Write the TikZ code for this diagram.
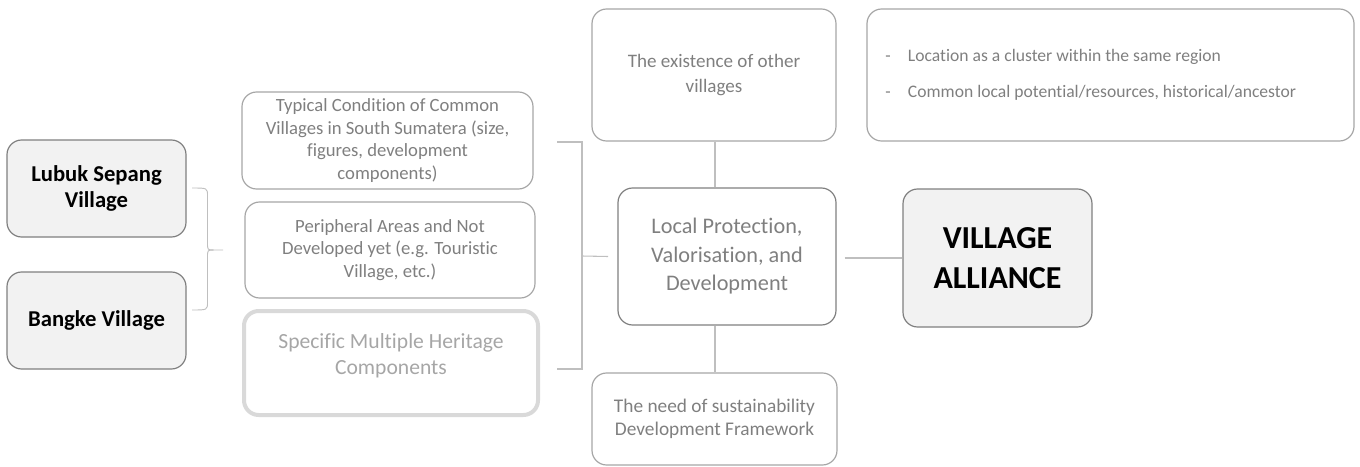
\documentclass[tikz,border=0pt]{standalone}
\usepackage{fontspec}
\setmainfont{Carlito}[Ligatures=NoCommon]
\definecolor{txtgray}{HTML}{7F7F7F}
\definecolor{ltgray}{HTML}{A6A6A6}
\definecolor{lngray}{HTML}{BFBFBF}
\definecolor{thgray}{HTML}{D9D9D9}
\definecolor{boxfill}{HTML}{F2F2F2}
\begin{document}
\begin{tikzpicture}[x=0.75pt,y=-0.75pt,
  box/.style={draw=ltgray, line width=0.9pt, rounded corners=11pt, inner sep=0pt, align=center, text=txtgray},
  darkbox/.style={box, draw=txtgray},
  keybox/.style={draw=txtgray, line width=0.9pt, fill=boxfill, rounded corners=11pt, inner sep=0pt, align=center, text=black, font=\bfseries},
  conn/.style={draw=lngray, line width=0.8pt},
  txt/.style={inner sep=0pt, align=center}
]
\useasboundingbox (0,0) rectangle (1360,467);
% left boxes
\node[keybox, minimum width=134.25pt, minimum height=72.75pt, font=\fontsize{17}{20}\selectfont\bfseries] (lubuk) at (96.5,188.5) {Lubuk Sepang\\Village};
\node[keybox, minimum width=134.25pt, minimum height=72.75pt, font=\fontsize{17}{20}\selectfont\bfseries] (bangke) at (96.5,320.5) {Bangke Village};
% middle boxes
\node[box, minimum width=218.25pt, minimum height=72.75pt, font=\fontsize{14}{17}\selectfont] (typical) at (387.5,140.5) {Typical Condition of Common\\Villages in South Sumatera (size,\\figures, development\\components)};
\node[box, minimum width=217.5pt, minimum height=72pt, font=\fontsize{14}{17}\selectfont] (periph) at (390,250) {Peripheral Areas and Not\\Developed yet (e.g. Touristic\\Village, etc.)};
\node[box, draw=thgray, line width=3pt, minimum width=220.5pt, minimum height=78pt] (specific) at (391,363) {};
\node[txt, text=ltgray, font=\fontsize{16.2}{19.5}\selectfont] (specifictxt) at (391,356) {Specific Multiple Heritage\\Components};
% centre column
\node[box, minimum width=183pt, minimum height=99pt, font=\fontsize{14.3}{18.75}\selectfont] (exist) at (714,75) {The existence of other\\villages};
\node[darkbox, minimum width=163.5pt, minimum height=102.75pt, font=\fontsize{16.7}{21.4}\selectfont] (local) at (727,256.5) {Local Protection,\\Valorisation, and\\Development};
\node[box, minimum width=183.75pt, minimum height=69pt, font=\fontsize{14.5}{17.5}\selectfont] (need) at (714.5,419) {The need of sustainability\\Development Framework};
% right
\node[box, minimum width=365.25pt, minimum height=99pt] (topright) at (1110.5,75) {};
\node[txt, anchor=west, text=txtgray, font=\fontsize{13.2}{15}\selectfont, align=left] (b1) at (885,57) {-\hspace{13pt}Location as a cluster within the same region};
\node[txt, anchor=west, text=txtgray, font=\fontsize{13.2}{15}\selectfont, align=left] (b2) at (885,93) {-\hspace{13pt}Common local potential/resources, historical/ancestor};
\node[keybox, minimum width=141.75pt, minimum height=103.5pt, font=\fontsize{24}{30}\selectfont\bfseries] (alliance) at (997.5,258) {VILLAGE\\ALLIANCE};
% connectors
\draw[conn] (exist.south -| 715,0) -- (local.north -| 715,0);
\draw[conn] (local.south -| 715,0) -- (need.north -| 715,0);
\draw[conn] ([xshift=6pt]local.east |- alliance.west) -- (alliance.west);
% left brace
\coordinate (lbtop) at (192,188);
\coordinate (lbbot) at (192,310);
\coordinate (lbtip) at (223,250);
\draw[conn, line width=0.7pt] (lbtop) .. controls (207.5,188) .. (207.5,196) -- (207.5,243) .. controls (207.5,250) .. (214,250) -- (lbtip);
\draw[conn, line width=0.7pt] (214,250) .. controls (207.5,250) .. (207.5,257) -- (207.5,302) .. controls (207.5,310) .. (lbbot);
% right bracket
\coordinate (rbtop) at (557,142);
\coordinate (rbbot) at (557,369);
\draw[conn] (rbtop) -- (582,142) -- (582,369) -- (rbbot);
\draw[conn] (582,256) -- (local.west -| 608,0);
\end{tikzpicture}
\end{document}
